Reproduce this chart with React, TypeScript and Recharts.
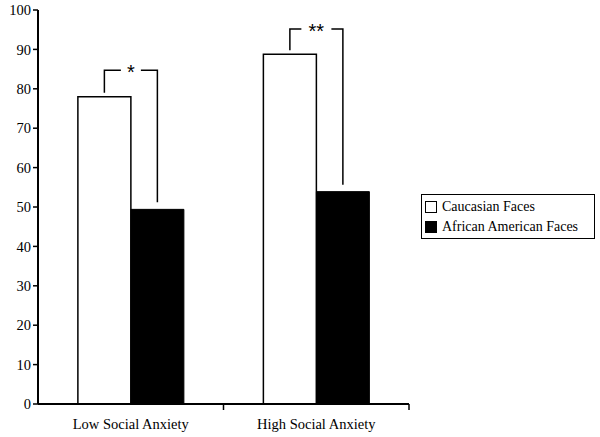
import { BarChart, Bar, XAxis, YAxis } from "recharts";

const categories = ["Low Social Anxiety", "High Social Anxiety"];
const caucasian = [78, 88.8];
const african = [49.4, 53.9];
const stars = ["*", "**"];
const bracketTop = [84.7, 95.2];
const yTicks = [0, 10, 20, 30, 40, 50, 60, 70, 80, 90, 100];
const legendItems = [
  { label: "Caucasian Faces", fill: "#fff" },
  { label: "African American Faces", fill: "#000" },
];

const data = categories.map((name, i) => ({
  name,
  caucasian: caucasian[i],
  african: african[i],
}));

const FONT = '"Liberation Serif", "DejaVu Serif", "Times New Roman", serif';

function Bracket(props: any) {
  const { x, y, width, height, value, index } = props;
  if (value == null || !height) return null;
  const ppu = height / value;
  const base = y + height;
  const top = base - bracketTop[index] * ppu;
  const leftX = x + width / 2;
  const rightX = x + width * 1.5;
  const leftBottom = y - 4;
  const rightBottom = base - african[index] * ppu - 7;
  const mid = (leftX + rightX) / 2;
  const halfGap = 5 + 5 * stars[index].length;
  return (
    <g stroke="#000" strokeWidth={1.5} fill="none">
      <path d={`M${leftX},${leftBottom}V${top}H${mid - halfGap}`} />
      <path d={`M${mid + halfGap},${top}H${rightX}V${rightBottom}`} />
      <text
        x={mid}
        y={top + 9}
        textAnchor="middle"
        fontSize={20}
        fontFamily='"Liberation Sans", Arial, sans-serif'
        fill="#000"
        stroke="none"
      >
        {stars[index]}
      </text>
    </g>
  );
}

function CategoryTick(props: any) {
  const { x, y, payload } = props;
  const axisY = y - 10;
  const edge = x + (payload.offset ?? 0);
  return (
    <g>
      <line x1={edge} y1={axisY} x2={edge} y2={axisY + 6} stroke="#000" strokeWidth={1.5} />
      <text x={x} y={y + 15} textAnchor="middle" fontSize={14.5} fontFamily={FONT} fill="#000">
        {payload.value}
      </text>
    </g>
  );
}

function LegendBox() {
  return (
    <div
      style={{
        position: "absolute",
        left: 421,
        top: 194,
        border: "1px solid #000",
        width: 174,
        height: 45,
        padding: "2px 0 0 3px",
        fontFamily: FONT,
        fontSize: 14,
        color: "#000",
        boxSizing: "border-box",
        background: "#fff",
      }}
    >
      {legendItems.map((it) => (
        <div key={it.label} style={{ display: "flex", alignItems: "center", height: 20, whiteSpace: "nowrap" }}>
          <span
            style={{
              display: "inline-block",
              width: 10,
              height: 10,
              border: "1px solid #000",
              background: it.fill,
              marginRight: 5,
            }}
          />
          {it.label}
        </div>
      ))}
    </div>
  );
}

export default function App() {
  return (
    <div style={{ position: "fixed", left: 0, top: 0, width: 600, height: 437, background: "#fff" }}>
      <BarChart
        width={600}
        height={437}
        data={data}
        margin={{ top: 10, right: 191, bottom: 5, left: 0 }}
        barCategoryGap="21.5%"
        barGap={0}
      >
        <XAxis
          dataKey="name"
          interval={0}
          tick={<CategoryTick />}
          tickLine={false}
          tickSize={6}
          tickMargin={4}
          axisLine={{ stroke: "#000", strokeWidth: 2 }}
          height={28}
        />
        <YAxis
          domain={[0, 100]}
          ticks={yTicks}
          interval={0}
          width={38}
          tickSize={5}
          tickMargin={2}
          axisLine={{ stroke: "#000", strokeWidth: 2 }}
          tickLine={{ stroke: "#000", strokeWidth: 1.5 }}
          tick={{ fontSize: 14.5, fontFamily: FONT, fill: "#000" }}
        />
        <Bar
          dataKey="caucasian"
          fill="#fff"
          stroke="#000"
          strokeWidth={1.5}
          isAnimationActive={false}
          label={<Bracket />}
        />
        <Bar dataKey="african" fill="#000" stroke="#000" strokeWidth={1} isAnimationActive={false} />
      </BarChart>
      <LegendBox />
    </div>
  );
}
